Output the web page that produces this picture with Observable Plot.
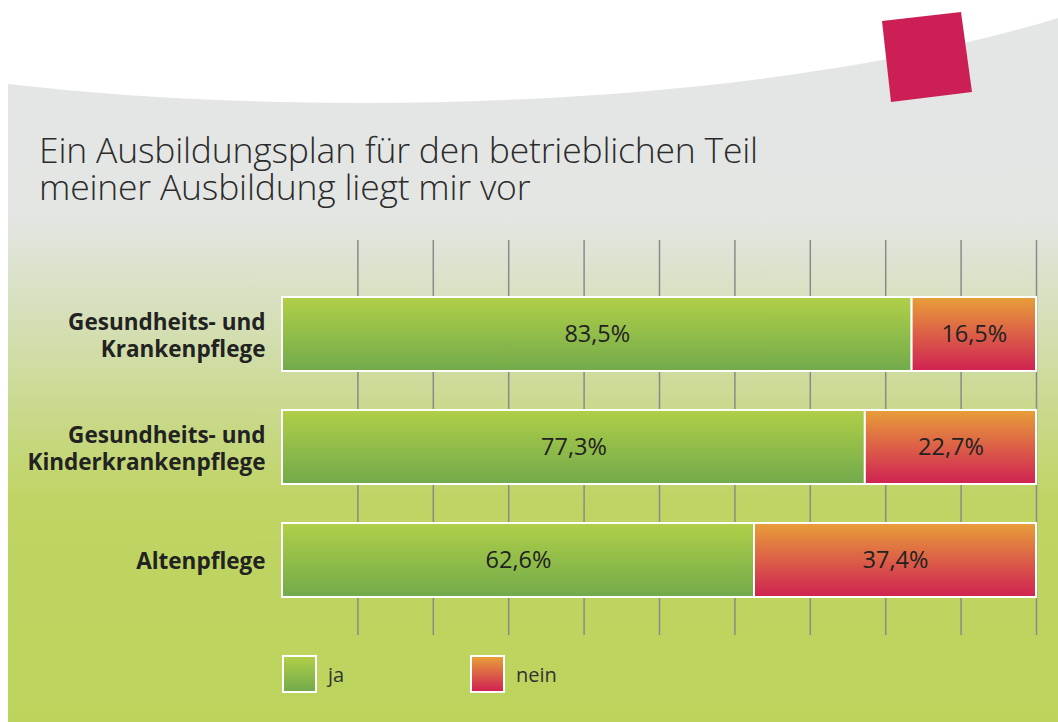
<!DOCTYPE html>
<html>
<head>
<meta charset="utf-8">
<script src="https://cdn.jsdelivr.net/npm/d3@7"></script>
<script src="https://cdn.jsdelivr.net/npm/@observablehq/plot@0.6"></script>
<style>
  html, body { margin: 0; padding: 0; background: #fff; }
  #wrap { position: relative; width: 1058px; height: 722px; overflow: hidden; font-family: "Open Sans", sans-serif; }
  #deco { position: absolute; left: 0; top: 0; }
  #title { position: absolute; left: 39px; top: 131px; font-size: 35.5px; font-weight: 300; line-height: 37px; color: #2b2b2b; letter-spacing: -0.2px; }
  #chart { position: absolute; left: 0; top: 230px; }
  #chart svg { background: transparent; overflow: visible; }
  #legend { position: absolute; top: 655px; left: 282px; height: 37px; }
  .li { position: absolute; top: 0; display: flex; align-items: center; }
  .sw { width: 31px; height: 34px; border: 2px solid #fff; box-sizing: content-box; }
  .lt { margin-left: 11px; font-size: 20px; color: #333; font-weight: 400; }
</style>
</head>
<body>
<div id="wrap">
  <svg id="deco" width="1058" height="722">
    <defs>
      <linearGradient id="bgGrad" gradientUnits="userSpaceOnUse" x1="0" y1="0" x2="0" y2="722">
        <stop offset="0" stop-color="#e4e6e6"/>
        <stop offset="0.30" stop-color="#e3e6e3"/>
        <stop offset="0.42" stop-color="#d7e0bf"/>
        <stop offset="0.55" stop-color="#cbda93"/>
        <stop offset="0.69" stop-color="#bfd464"/>
        <stop offset="1" stop-color="#bcd45c"/>
      </linearGradient>
    </defs>
    <path d="M8,84 C300,118 750,112 1058,18 L1058,722 L8,722 Z" fill="url(#bgGrad)"/>
    <polygon points="882,21 961,12 972,92 891,102" fill="#cc1f55"/>
  </svg>
  <div id="title">Ein Ausbildungsplan für den betrieblichen Teil<br>meiner Ausbildung liegt mir vor</div>
  <div id="chart"></div>
  <div id="legend"></div>
</div>
<script>
const categories = ["Gesundheits- und\nKrankenpflege", "Gesundheits- und\nKinderkrankenpflege", "Altenpflege"];
const jaValues = [83.5, 77.3, 62.6];
const neinValues = [16.5, 22.7, 37.4];
const gridTicks = [10, 20, 30, 40, 50, 60, 70, 80, 90, 100];
const seriesNames = ["ja", "nein"];

const rows = [];
categories.forEach((c, i) => {
  rows.push({cat: c, series: "ja", x1: 0, x2: jaValues[i], value: jaValues[i]});
  rows.push({cat: c, series: "nein", x1: jaValues[i], x2: jaValues[i] + neinValues[i], value: neinValues[i]});
});
const fmt = v => v.toFixed(1).replace(".", ",") + "%";

const plot = Plot.plot({
  width: 1058,
  height: 420,
  marginLeft: 282,
  marginRight: 22,
  marginTop: 10,
  marginBottom: 15,
  style: {background: "transparent", color: "#222", fontFamily: "'Open Sans', sans-serif", overflow: "visible"},
  x: {domain: [0, 100], axis: null},
  y: {domain: categories, paddingInner: 0.345, paddingOuter: 0.416, align: 0.596, label: null},
  marks: [
    Plot.ruleX(gridTicks, {stroke: "#8a8a8a", strokeWidth: 1.5}),
    Plot.barX(rows.filter(d => d.series === "ja"), {x1: "x1", x2: "x2", y: "cat", fill: "url(#gJa)", stroke: "#fff", strokeWidth: 2}),
    Plot.barX(rows.filter(d => d.series === "nein"), {x1: "x1", x2: "x2", y: "cat", fill: "url(#gNein)", stroke: "#fff", strokeWidth: 2}),
    Plot.text(rows, {x: d => (d.x1 + d.x2) / 2, y: "cat", text: d => fmt(d.value), fontSize: 23.5, fill: "#222"}),
    Plot.axisY({tickSize: 0, tickPadding: 17, fontSize: 22.5, fontWeight: "bold", lineHeight: 1.22, label: null})
  ]
});

const defs = d3.select(plot).insert("defs", ":first-child");
const g1 = defs.append("linearGradient").attr("id", "gJa").attr("x1", 0).attr("y1", 0).attr("x2", 0).attr("y2", 1);
g1.append("stop").attr("offset", 0).attr("stop-color", "#b0cf48");
g1.append("stop").attr("offset", 1).attr("stop-color", "#72aa4b");
const g2 = defs.append("linearGradient").attr("id", "gNein").attr("x1", 0).attr("y1", 0).attr("x2", 0).attr("y2", 1);
g2.append("stop").attr("offset", 0).attr("stop-color", "#e89f39");
g2.append("stop").attr("offset", 0.5).attr("stop-color", "#dc5f47");
g2.append("stop").attr("offset", 1).attr("stop-color", "#cf2252");
d3.select(plot).selectAll('[aria-label="y-axis tick label"] text').style("font-weight", "bold");

document.getElementById("chart").appendChild(plot);

const legend = document.getElementById("legend");
const swatchBg = {ja: "linear-gradient(#b0cf48, #72aa4b)", nein: "linear-gradient(#e89f39, #dc5f47 50%, #cf2252)"};
const legendX = {ja: 0, nein: 188};
seriesNames.forEach(s => {
  const item = document.createElement("div");
  item.className = "li";
  item.style.left = legendX[s] + "px";
  item.innerHTML = `<div class="sw" style="background:${swatchBg[s]}"></div><div class="lt">${s}</div>`;
  legend.appendChild(item);
});
</script>
</body>
</html>
